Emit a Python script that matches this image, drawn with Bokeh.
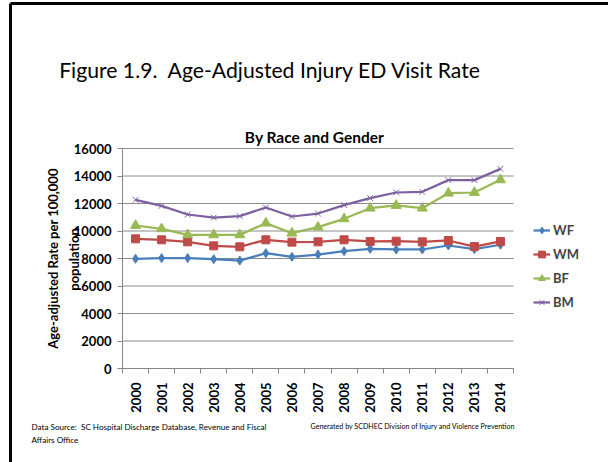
import math
from bokeh.plotting import figure
from bokeh.models import (Range1d, FixedTicker, Legend, LegendItem, Label,
                          BasicTickFormatter, LinearAxis)
from bokeh.embed import file_html
from bokeh.resources import INLINE

years = list(range(2000, 2015))
wf = [7980, 8030, 8030, 7950, 7850, 8385, 8120, 8290, 8530, 8705, 8655, 8655, 8945, 8680, 9000]
wm = [9430, 9360, 9210, 8920, 8850, 9360, 9190, 9210, 9360, 9240, 9260, 9210, 9310, 8870, 9240]
bf = [10400, 10160, 9720, 9720, 9720, 10570, 9840, 10280, 10885, 11660, 11855, 11660, 12750, 12800, 13720]
bm = [12270, 11830, 11200, 10980, 11080, 11710, 11055, 11270, 11880, 12390, 12800, 12850, 13700, 13700, 14520]
series_names = ["WF", "WM", "BF", "BM"]
y_ticks = list(range(0, 16001, 2000))

# canvas / plot-area geometry (pixels)
W, H = 608, 462
PL, PR, PT, PB = 122, 513, 148, 368
X0, X1 = years[0] - 0.5, years[-1] + 0.5
Y0, Y1 = 0, 16000
xs = (PR - PL) / (X1 - X0)
ys = (PB - PT) / (Y1 - Y0)
XS, XE = X0 - PL / xs, X1 + (W - PR) / xs
YS, YE = Y0 - (H - PB) / ys, Y1 + PT / ys

FONT = "Lato"
colors = ["#4A7EBB", "#BE4B48", "#98B954", "#7D60A0"]
markers = ["diamond", "square", "triangle", "x"]
msizes = [9, 8, 10, 8]

p = figure(width=W, height=H, output_backend="svg", toolbar_location=None, title=None,
           x_range=Range1d(XS, XE), y_range=Range1d(YS, YE),
           x_axis_location=None, y_axis_location=None, min_border=0)
p.outline_line_color = None
p.background_fill_color = "white"
p.border_fill_color = "white"
p.xgrid.visible = False
p.ygrid.visible = False

# slide frame (pixel -> data transform)
def px(X):
    return XS + X / xs
def py(Y):
    return YE - Y / ys
p.segment(x0=[px(10), px(10)], y0=[py(3), py(3)], x1=[px(W + 2), px(10)], y1=[py(3), py(H + 2)],
          line_color="black", line_width=3)

# horizontal gridlines at the y tick values, spanning the plot area
p.segment(x0=[X0] * len(y_ticks), x1=[X1] * len(y_ticks), y0=y_ticks, y1=y_ticks,
          line_color="#8C8C8C", line_width=1, level="underlay")

yaxis = LinearAxis(fixed_location=X0, ticker=FixedTicker(ticks=y_ticks), bounds=(Y0, Y1))
yaxis.major_tick_out = 5
yaxis.major_tick_in = 0
yaxis.minor_tick_out = 0
yaxis.axis_line_color = "#868686"
yaxis.major_tick_line_color = "#868686"
yaxis.major_label_text_font = FONT
yaxis.major_label_text_font_style = "bold"
yaxis.major_label_text_font_size = "13px"
yaxis.major_label_text_color = "black"
yaxis.major_label_standoff = 6
p.add_layout(yaxis, "left")

xaxis = LinearAxis(fixed_location=Y0,
                   ticker=FixedTicker(ticks=years, minor_ticks=[y - 0.5 for y in years] + [X1]),
                   bounds=(X0, X1), formatter=BasicTickFormatter(use_scientific=False))
xaxis.major_tick_out = 0
xaxis.major_tick_in = 0
xaxis.minor_tick_out = 5
xaxis.minor_tick_in = 0
xaxis.axis_line_color = "#868686"
xaxis.minor_tick_line_color = "#868686"
xaxis.major_label_orientation = math.pi / 2
xaxis.major_label_text_font = FONT
xaxis.major_label_text_font_style = "bold"
xaxis.major_label_text_font_size = "13px"
xaxis.major_label_text_color = "black"
xaxis.major_label_standoff = 9
p.add_layout(xaxis, "below")

items = []
for name, vals, c, m, s in zip(series_names, [wf, wm, bf, bm], colors, markers, msizes):
    l = p.line(years, vals, line_color=c, line_width=2.25)
    if m == "x":
        sc = p.scatter(years, vals, marker=m, size=s, line_color=c, line_width=1)
    else:
        sc = p.scatter(years, vals, marker=m, size=s, fill_color=c, line_color=c)
    items.append(LegendItem(label=name, renderers=[l, sc]))

legend = Legend(items=items, location=(533, H - 312), padding=0, spacing=4, label_height=20,
                glyph_height=20, glyph_width=17, label_standoff=3, margin=0,
                label_text_font=FONT, label_text_font_style="bold", label_text_font_size="13px",
                border_line_color=None, background_fill_alpha=0)
p.add_layout(legend, "center")

# texts: pixel coordinates from top-left -> screen units (frame covers whole canvas)
def lab(text, X, Y, size, bold=False, align="left", baseline="alphabetic", angle=0.0):
    p.add_layout(Label(x=X, y=H - Y, x_units="screen", y_units="screen", text=text,
                       text_font=FONT, text_font_size="%gpx" % size,
                       text_font_style="bold" if bold else "normal", text_align=align,
                       text_baseline=baseline, angle=angle, text_color="black"))

lab("Figure 1.9.\u00a0 Age-Adjusted Injury ED Visit Rate", 270, 69, 21.2, align="center")
lab("By Race and Gender", 314, 136, 15.5, bold=True, align="center")
lab("Age-adjusted Rate per 100,000", 52, 258, 13, bold=True, align="center",
    baseline="middle", angle=math.pi / 2)
lab("population", 73, 259, 13, bold=True, align="center", baseline="middle", angle=math.pi / 2)
lab("Data Source:\u00a0 SC Hospital Discharge Database, Revenue and Fiscal", 31, 426, 8.1)
lab("Affairs Office", 31, 439, 8.1)
lab("Generated by SCDHEC Division of Injury and Violence Prevention", 310, 426, 7.1)

open("out.html", "w").write(file_html(p, INLINE))
